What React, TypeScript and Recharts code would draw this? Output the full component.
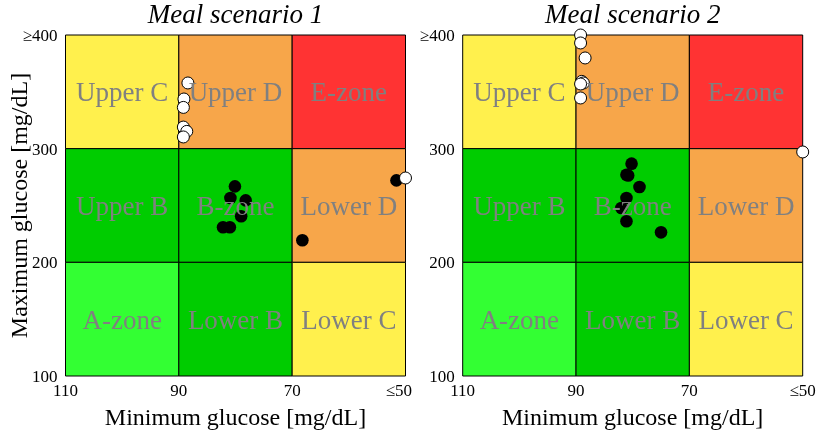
import React from 'react';
import { ScatterChart, Scatter, XAxis, YAxis, ReferenceArea } from 'recharts';

// zone grid (min glucose bands x max glucose bands)
const xBands = [[110, 90], [90, 70], [70, 50]];
const yBands = [[300, 400], [200, 300], [100, 200]];
const zoneNames = [
    ['Upper C', 'Upper D', 'E-zone'],
    ['Upper B', 'B-zone', 'Lower D'],
    ['A-zone', 'Lower B', 'Lower C'],
];
const zoneColors = [
    ['#fff04d', '#f7a64a', '#ff3333'],
    ['#00cc00', '#00cc00', '#f7a64a'],
    ['#33ff33', '#00cc00', '#fff04d'],
];

const xTicks = [110, 90, 70, 50];
const yTicks = [100, 200, 300, 400];

const scenario1Black = [
    { x: 80.1, y: 266.8 }, { x: 80.9, y: 256.6 }, { x: 78.2, y: 254.5 }, { x: 79.0, y: 240.5 },
    { x: 82.2, y: 230.8 }, { x: 81.0, y: 230.8 }, { x: 68.2, y: 219.4 }, { x: 51.6, y: 272.1 },
];
const scenario1White = [
    { x: 88.4, y: 357.8 }, { x: 89.1, y: 343.7 }, { x: 89.2, y: 336.3 }, { x: 89.2, y: 319.0 },
    { x: 88.6, y: 315.2 }, { x: 89.2, y: 310.3 }, { x: 50.0, y: 274.2 },
];
const scenario2Black = [
    { x: 80.2, y: 286.8 }, { x: 81.1, y: 277.0 }, { x: 80.8, y: 276.4 }, { x: 78.8, y: 266.3 },
    { x: 81.1, y: 256.6 }, { x: 82.0, y: 247.8 }, { x: 81.1, y: 236.1 }, { x: 75.0, y: 226.4 },
];
const scenario2White = [
    { x: 89.2, y: 400.0 }, { x: 89.2, y: 393.0 }, { x: 88.4, y: 379.8 }, { x: 89.0, y: 359.2 },
    { x: 88.7, y: 357.8 }, { x: 89.2, y: 356.9 }, { x: 89.2, y: 344.6 }, { x: 50.0, y: 297.1 },
];

const font = '"Liberation Serif", "Times New Roman", serif';

const blackDot = (p: any) => <circle cx={p.cx} cy={p.cy} r={6.3} fill="#000" />;
const whiteDot = (p: any) => <circle cx={p.cx} cy={p.cy} r={6} fill="#fff" stroke="#000" strokeWidth={1} />;

interface PanelProps {
    title: string;
    black: { x: number; y: number }[];
    white: { x: number; y: number }[];
    left: number;
    width: number;
    yAxisWidth: number;
    showYLabel: boolean;
}

const Panel: React.FC<PanelProps> = ({ title, black, white, left, width, yAxisWidth, showYLabel }) => {
    const rightMargin = width - yAxisWidth - 340;
    return (
        <div style={{ position: 'absolute', left, top: 0, width, height: 430 }}>
            <div
                style={{
                    position: 'absolute',
                    left: yAxisWidth - 20,
                    width: 380,
                    top: 0,
                    textAlign: 'center',
                    fontStyle: 'italic',
                    fontSize: 27,
                    lineHeight: '28px',
                }}
            >
                {title}
            </div>
            <ScatterChart
                width={width}
                height={430}
                margin={{ top: 35, right: rightMargin, bottom: 0, left: 0 }}
                style={{ fontFamily: font }}
            >
                <XAxis
                    type="number"
                    dataKey="x"
                    domain={[50, 110]}
                    reversed
                    ticks={xTicks}
                    tickFormatter={(v: number) => (v === 50 ? '≤50' : String(v))}
                    axisLine={false}
                    tickLine={false}
                    height={54}
                    tick={{ fill: '#000', fontSize: 17 }}
                    label={{ value: 'Minimum glucose [mg/dL]', position: 'insideBottom', offset: 5, fill: '#000', fontSize: 24 }}
                />
                <YAxis
                    type="number"
                    dataKey="y"
                    domain={[100, 400]}
                    ticks={yTicks}
                    tickFormatter={(v: number) => (v === 400 ? '≥400' : String(v))}
                    axisLine={false}
                    tickLine={false}
                    width={yAxisWidth}
                    tick={{ fill: '#000', fontSize: 17 }}
                    label={
                        showYLabel
                            ? {
                                  value: 'Maximum glucose [mg/dL]',
                                  angle: -90,
                                  position: 'insideLeft',
                                  offset: 18,
                                  fill: '#000',
                                  fontSize: 24,
                                  style: { textAnchor: 'middle' },
                              }
                            : undefined
                    }
                />
                {yBands.map((yb, r) =>
                    xBands.map((xb, c) => (
                        <ReferenceArea
                            key={`${r}-${c}`}
                            x1={xb[0]}
                            x2={xb[1]}
                            y1={yb[0]}
                            y2={yb[1]}
                            fill={zoneColors[r][c]}
                            fillOpacity={1}
                            stroke="#000"
                            strokeWidth={1}
                            label={{ value: zoneNames[r][c], position: 'center', fill: '#808080', fontSize: 27 }}
                        />
                    ))
                )}
                <Scatter data={black} shape={blackDot} isAnimationActive={false} />
                <Scatter data={white} shape={whiteDot} isAnimationActive={false} />
            </ScatterChart>
        </div>
    );
};

export default function App() {
    return (
        <div style={{ position: 'fixed', left: 0, top: 0, width: 823, height: 430, background: '#fff', fontFamily: font }}>
            <Panel title="Meal scenario 1" black={scenario1Black} white={scenario1White} left={0} width={412} yAxisWidth={65.5} showYLabel />
            <Panel title="Meal scenario 2" black={scenario2Black} white={scenario2White} left={412} width={412} yAxisWidth={50.7} showYLabel={false} />
        </div>
    );
}
